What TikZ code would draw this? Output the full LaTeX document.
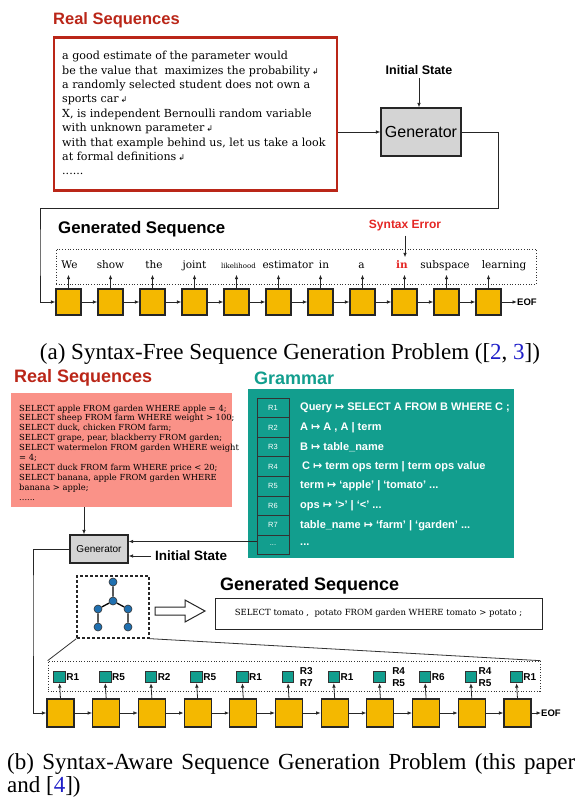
\documentclass[tikz,border=0pt]{standalone}
\usepackage{fontspec}
\setmainfont{Liberation Serif}
\setsansfont{Liberation Sans}
\newfontfamily\slabfont{DejaVu Serif}
\newfontfamily\symfont{DejaVu Sans}
\usetikzlibrary{arrows.meta, positioning, fit, calc}

\definecolor{realred}{RGB}{186,38,24}
\definecolor{errred}{RGB}{228,38,36}
\definecolor{cellyel}{RGB}{244,184,0}
\definecolor{salmon}{RGB}{250,146,136}
\definecolor{gramteal}{RGB}{18,158,142}
\definecolor{treeblue}{RGB}{32,112,176}
\definecolor{citeblue}{RGB}{30,30,200}
\definecolor{gengray}{RGB}{212,212,212}

\newcommand{\fsz}[2]{\fontsize{#1}{#2}\selectfont}
\newcommand{\mapsym}{{\symfont ↦}}
\newcommand{\retsym}{\,{\symfont\fsz{8}{8}↲}}
\newcommand{\tinyw}[1]{{\fsz{7}{8}#1}}
\newcommand{\errw}[1]{{\bfseries\color{errred}#1}}
\newcommand{\tdots}{...}

\begin{document}
\begin{tikzpicture}[
  x=1pt, y=-1pt,
  >={Latex[length=4.5pt,width=3.6pt]},
  headline/.style={anchor=west, inner sep=0pt},
  genbox/.style={draw=black!85, fill=gengray, line width=1.1pt, inner sep=0pt},
  cell/.style={draw=black!85, fill=cellyel, line width=1.1pt, inner sep=0pt},
  rulebox/.style={draw=black!80, line width=1pt, minimum width=32pt, minimum height=19.6pt,
    inner sep=0pt, text=white, font=\sffamily\fsz{7.5}{8}},
  ruletext/.style={anchor=west, text=white, font=\sffamily\bfseries\fsz{11}{12}, inner sep=0pt},
  mini/.style={draw=black!80, fill=gramteal, line width=0.8pt, minimum size=11.5pt, inner sep=0pt},
  tag/.style={font=\sffamily\bfseries\fsz{10}{12}, inner sep=0.5pt, align=left, anchor=west},
  word/.style={font=\slabfont\fsz{10.5}{12}, text height=8pt, text depth=3pt, inner xsep=0pt, inner ysep=3pt},
  arrow/.style={->, line width=0.8pt, draw=black!85},
  link/.style={line width=0.8pt, draw=black!80},
  dotbox/.style={draw=black!80, dotted, line width=0.7pt, inner sep=0pt},
  treenode/.style={circle, draw=black!80, fill=treeblue, line width=0.6pt, minimum size=8pt, inner sep=0pt}
]
\useasboundingbox (0,0) rectangle (579,802);

% (a) 真实序列与生成器
\node[headline, text=realred, font=\sffamily\bfseries\fsz{16.5}{18}] (realtitle_a) at (53,20) {Real Sequences};
\node[draw=realred, line width=2.2pt, minimum width=283pt, minimum height=153pt, inner sep=0pt] (real_a) at (195.5,114) {};
\node[anchor=north west, align=left, inner sep=0pt, font=\slabfont\fsz{11.1}{14.4}] (realtxt_a) at (62,51)
  {a good estimate of the parameter would\\
   be the value that\ \ maximizes the probability\retsym\\
   a randomly selected student does not own a\\
   sports car\retsym\\
   X, is independent Bernoulli random variable\\
   with unknown parameter\retsym\\
   with that example behind us, let us take a look\\
   at formal definitions\retsym\\
   ......};

\node[genbox, minimum width=80pt, minimum height=48pt, font=\sffamily\fsz{16}{18}] (gen_a) at (421,132) {Generator};
\node[font=\sffamily\bfseries\fsz{12.5}{14}, inner sep=0pt] (init_a) at (419,70) {Initial State};
\draw[arrow] ([yshift=-3pt]init_a.south) -- (init_a.south |- gen_a.north);
\draw[arrow] (real_a.east |- gen_a.west) -- (gen_a.west);

% (a) 生成序列
\node[headline, font=\sffamily\bfseries\fsz{16.8}{18}] (gentitle_a) at (58,229) {Generated Sequence};
\node[dotbox, minimum width=480pt, minimum height=35pt] (seq_a) at (296,266.5) {};
\foreach \i in {1,...,11} {
  \node[cell, minimum width=25pt, minimum height=26pt] (ca\i) at ({68.5+42*(\i-1)},302) {};
}
\foreach \i [count=\j from 2] in {1,...,10} {
  \draw[arrow] (ca\i.east) -- (ca\j.west);
}
\foreach \w/\dx [count=\i] in {We/1, show/0, the/1.5, joint/0, \tinyw{likelihood}/2, estimator/9.5,
    in/3.5, a/-1, \errw{in}/-2.5, subspace/-1.5, learning/15.5} {
  \node[word] (w\i) at ({68.5+42*(\i-1)+\dx},266) {\w};
  \draw[arrow] (ca\i.north) -- (ca\i.north |- w\i.south);
}
\node[font=\sffamily\bfseries\fsz{12}{14}, text=errred, inner sep=0pt] (err) at (405,226) {Syntax Error};
\draw[arrow] ([yshift=-4pt]err.south) -- (err.south |- w9.north);
\node[headline, font=\sffamily\bfseries\fsz{9.5}{10}] (eof_a) at (517,302) {EOF};
\draw[arrow] (ca11.east) -- (eof_a.west);

% (a) 反馈连线
\coordinate (turn_a) at (498,208);
\coordinate (back_a) at (40,250);
\draw[arrow] (gen_a.east) -| (turn_a) -| (back_a) |- (ca1.west);

\node[font=\fsz{23}{26}, inner sep=0pt] (cap_a) at (290,354)
  {(a) Syntax-Free Sequence Generation Problem ([\textcolor{citeblue}{2}, \textcolor{citeblue}{3}])};

% (b) 真实序列与语法
\node[headline, text=realred, font=\sffamily\bfseries\fsz{18}{20}] (realtitle_b) at (14,378) {Real Sequences};
\node[fill=salmon, minimum width=221pt, minimum height=114pt, inner sep=0pt] (real_b) at (121.5,450) {};
\node[anchor=north west, align=left, inner sep=0pt, font=\slabfont\fsz{8.35}{9.9}] (realtxt_b) at (19,404.5)
  {SELECT apple FROM garden WHERE apple = 4;\\
   SELECT sheep FROM farm WHERE weight > 100;\\
   SELECT duck, chicken FROM farm;\\
   SELECT grape, pear, blackberry FROM garden;\\
   SELECT watermelon FROM garden WHERE weight\\
   = 4;\\
   SELECT duck FROM farm WHERE price < 20;\\
   SELECT banana, apple FROM garden WHERE\\
   banana > apple;\\
   ......};

\node[headline, text=gramteal, font=\sffamily\bfseries\fsz{18}{20}] (gramtitle) at (254,378) {Grammar};
\node[fill=gramteal, minimum width=266pt, minimum height=169pt, inner sep=0pt] (gram) at (381,473.5) {};
\foreach \rname/\rtext [count=\i] in {
    R1/{Query \mapsym{} SELECT A FROM B WHERE C ;},
    R2/{A \mapsym{} A , A | term},
    R3/{B \mapsym{} table\_name},
    R4/{\,C \mapsym{} term ops term | term ops value},
    R5/{term \mapsym{} ‘apple’ | ‘tomato’ \tdots},
    R6/{ops \mapsym{} ‘>’ | ‘<’ \tdots},
    R7/{table\_name \mapsym{} ‘farm’ | ‘garden’ \tdots},
    \tdots/\tdots} {
  \node[rulebox] (r\i) at (273,{407.8+19.6*(\i-1)}) {\rname};
  \node[ruletext] (rt\i) at (300,{407.8+19.6*(\i-1)}) {\rtext};
}

% (b) 生成器
\node[genbox, minimum width=58pt, minimum height=28pt, font=\sffamily\fsz{10}{12}] (gen_b) at (99,549) {Generator};
\draw[arrow] ([xshift=-15pt]gen_b.north |- real_b.south) -- ([xshift=-15pt]gen_b.north);
\coordinate (rin) at ([yshift=3.5pt]r8.west);
\draw[arrow] (rin) -- (rin -| gen_b.east);
\node[headline, font=\sffamily\bfseries\fsz{13.5}{15}] (init_b) at (155,556) {Initial State};
\coordinate (initin) at ([xshift=-4pt]init_b.west);
\draw[arrow] (initin) -- (initin -| gen_b.east);

% (b) 语法树与生成序列
\node[draw=black!85, dash pattern=on 3pt off 2pt, line width=1.3pt, minimum width=72pt, minimum height=62pt] (treebox) at (113,607) {};
\node[treenode] (t1) at (113,582) {};
\node[treenode] (t2) at (113,601) {};
\node[treenode] (t3) at (98,609) {};
\node[treenode] (t4) at (128,609) {};
\node[treenode] (t5) at (98,627) {};
\node[treenode] (t6) at (128,627) {};
\draw[line width=1.3pt] (t1) -- (t2) (t2) -- (t3) (t2) -- (t4) (t3) -- (t5) (t4) -- (t6);
\draw[line width=1pt, draw=black!85, fill=white] (155,607) -- (185,607) -- (185,600) -- (205,611)
  -- (185,622) -- (185,615) -- (155,615) -- cycle;

\node[headline, font=\sffamily\bfseries\fsz{18}{20}] (gentitle_b) at (220,586) {Generated Sequence};
\node[draw=black!85, line width=1pt, minimum width=327pt, minimum height=31pt, font=\slabfont\fsz{8.5}{10}] (seq_b) at (378.5,613.5)
  {SELECT tomato ,\ \ potato FROM garden WHERE tomato > potato ;};

% (b) 规则序列
\node[dotbox, minimum width=492pt, minimum height=30pt] (rules_b) at (294,676) {};
\draw[link] (treebox.south west) -- (rules_b.north west);
\draw[link] (treebox.south east) -- (rules_b.north east);
\foreach \i in {1,...,11} {
  \node[cell, minimum width=27pt, minimum height=28pt] (cb\i) at ({60.5+45.7*(\i-1)},713) {};
}
\foreach \i [count=\j from 2] in {1,...,10} {
  \draw[arrow] (cb\i.east) -- (cb\j.west);
}
\foreach \t/\dx [count=\i] in {R1/0, R5/0, R2/0, R5/0, R1/0, {R3\\R7}/5, R1/0, {R4\\R5}/6, R6/0, {R4\\R5}/1, R1/0} {
  \node[mini] (m\i) at ({59.5+45.7*(\i-1)},677) {};
  \node[tag, xshift=\dx pt] (tag\i) at (m\i.east) {\t};
  \draw[arrow] (cb\i.north) -- (m\i.south);
}
\node[headline, font=\sffamily\bfseries\fsz{9.5}{10}] (eof_b) at (541,713) {EOF};
\draw[arrow] (cb11.east) -- (eof_b.west);

% (b) 反馈连线
\coordinate (back_b) at (33,600);
\draw[arrow] (gen_b.west) -| (back_b) |- (cb1.west);

\node[anchor=north west, text width=568pt, align=justify, inner sep=0pt, font=\fsz{23}{23}] (cap_b) at (7,753)
  {(b) Syntax-Aware Sequence Generation Problem (this paper\linebreak and [\textcolor{citeblue}{4}])};

\end{tikzpicture}
\end{document}
